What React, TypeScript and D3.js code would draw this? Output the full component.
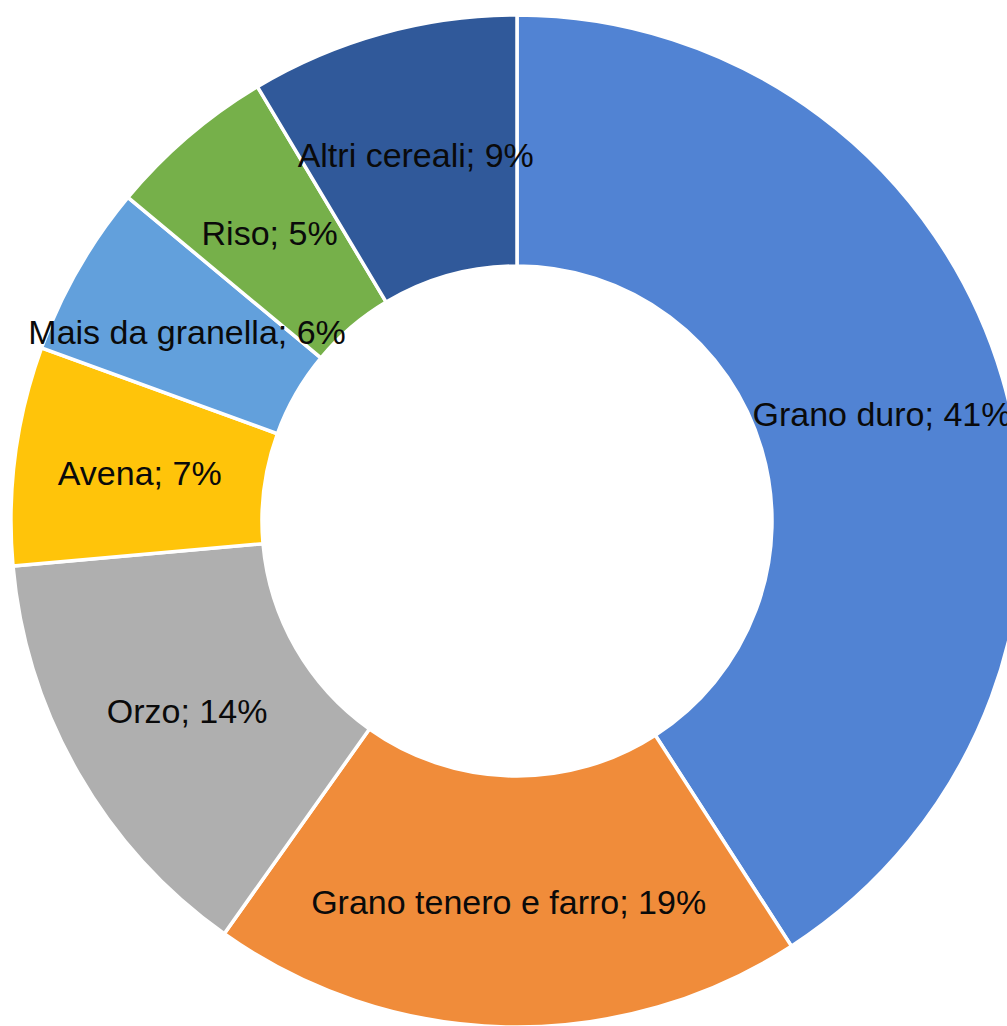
import React from "react";
import * as d3 from "d3";

const categories = [
  "Grano duro",
  "Grano tenero e farro",
  "Orzo",
  "Avena",
  "Mais da granella",
  "Riso",
  "Altri cereali",
];
const shares = [41.0, 19.0, 13.8, 7.0, 5.5, 5.4, 8.6];
const labels = ["41%", "19%", "14%", "7%", "6%", "5%", "9%"];
const colors = ["#5183D3", "#F08C3A", "#AFAFAF", "#FFC40A", "#62A0DC", "#76B04A", "#30599A"];

const W = 1007;
const H = 1026;
const cx = 517;
const cy = 521;
const outerR = 506;
const innerR = 255;

export default function App() {
  const pie = d3
    .pie<number>()
    .sort(null)
    .value((d) => d)
    .startAngle(0)
    .endAngle(2 * Math.PI);
  const arcs = pie(shares);
  const arc = d3.arc<d3.PieArcDatum<number>>().innerRadius(innerR).outerRadius(outerR);

  return (
    <svg
      width={W}
      height={H}
      style={{ position: "fixed", left: 0, top: 0, background: "#fff" }}
      fontFamily="'Liberation Sans', Arial, sans-serif"
    >
      <rect x={0} y={0} width={W} height={H} fill="#fff" />
      <g transform={`translate(${cx},${cy})`}>
        {arcs.map((a, i) => (
          <path key={i} d={arc(a) || ""} fill={colors[i]} stroke="#fff" strokeWidth={3.5} />
        ))}
        {arcs.map((a, i) => {
          const [x, y] = arc.centroid(a);
          return (
            <text
              key={"t" + i}
              x={x}
              y={y}
              dy="0.38em"
              textAnchor="middle"
              fontSize={34}
              fill="#0a0a0a"
            >
              {`${categories[i]}; ${labels[i]}`}
            </text>
          );
        })}
      </g>
    </svg>
  );
}
